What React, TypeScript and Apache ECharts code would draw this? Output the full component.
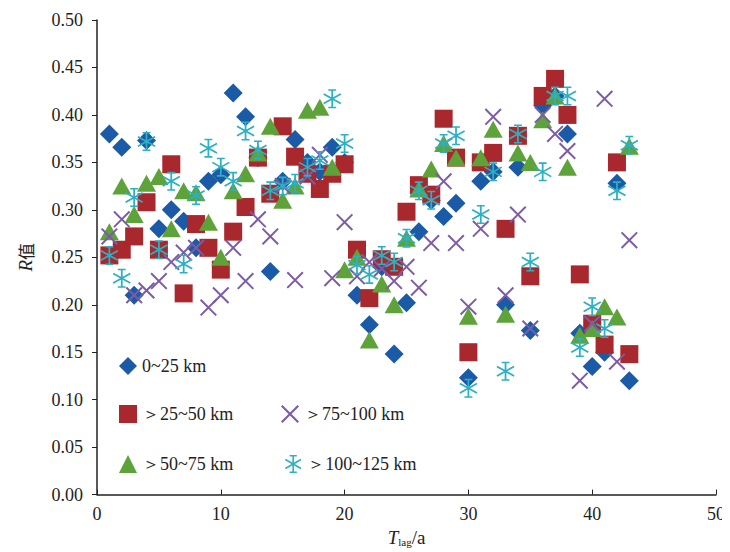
import React, { useEffect, useRef } from "react";
import * as echarts from "echarts";

const LAGS = [1,2,3,4,5,6,7,8,9,10,11,12,13,14,15,16,17,18,19,20,21,22,23,24,25,26,27,28,29,30,31,32,33,34,35,36,37,38,39,40,41,42,43];

const NAMES = ["0~25 km", "＞25~50 km", "＞50~75 km", "＞75~100 km", "＞100~125 km"];

const S1 = [0.38,0.366,0.21,0.373,0.28,0.30,0.288,0.26,0.33,0.337,0.423,0.398,0.355,0.235,0.33,0.374,0.35,0.34,0.366,0.35,0.21,0.179,0.24,0.148,0.202,0.277,0.31,0.293,0.307,0.123,0.33,0.34,0.20,0.345,0.173,0.41,0.42,0.38,0.17,0.135,0.15,0.328,0.12];
const S2 = [0.252,0.258,0.272,0.308,0.258,0.348,0.212,0.285,0.26,0.237,0.277,0.303,0.355,0.317,0.388,0.356,0.338,0.322,0.338,0.348,0.258,0.207,0.248,0.24,0.298,0.326,0.316,0.396,0.355,0.15,0.35,0.36,0.28,0.378,0.23,0.42,0.438,0.40,0.232,0.18,0.158,0.35,0.148];
const S3 = [0.277,0.325,0.295,0.328,0.335,0.28,0.32,0.318,0.287,0.25,0.32,0.338,0.36,0.388,0.31,0.325,0.405,0.408,0.345,0.237,0.25,0.163,0.222,0.20,0.27,0.322,0.343,0.37,0.355,0.188,0.355,0.385,0.19,0.36,0.35,0.395,0.42,0.345,0.168,0.175,0.198,0.187,0.367];
const S4 = [0.272,0.29,0.21,0.215,0.225,0.245,0.255,0.26,0.197,0.21,0.26,0.225,0.29,0.272,0.325,0.226,0.335,0.358,0.228,0.287,0.23,0.245,0.238,0.225,0.24,0.218,0.265,0.33,0.265,0.198,0.28,0.398,0.21,0.295,0.175,0.40,0.38,0.362,0.12,0.18,0.417,0.14,0.268];
const S5 = [0.252,0.228,0.313,0.372,0.258,0.33,0.243,0.315,0.365,0.345,0.33,0.383,0.363,0.32,0.325,0.328,0.345,0.352,0.417,0.37,0.242,0.232,0.252,0.245,0.27,0.32,0.31,0.37,0.378,0.112,0.295,0.34,0.13,0.38,0.245,0.34,0.42,0.42,0.155,0.198,0.175,0.32,0.368];

const X_TICKS = [0, 10, 20, 30, 40, 50];

const COLORS = ["#1a5aa6", "#a8282e", "#5da33a", "#7d5ba6", "#2bb0c4"];

const X_PATH =
  "path://M0.9,-0.9 L20.9,19.1 L19.1,20.9 L-0.9,0.9 Z M19.1,-0.9 L20.9,0.9 L0.9,20.9 L-0.9,19.1 Z";
const AST_PATH =
  "path://M9.1,0 L10.9,0 L10.9,20 L9.1,20 Z M6,0 L14,0 L14,1.6 L6,1.6 Z M6,18.4 L14,18.4 L14,20 L6,20 Z " +
  "M0.89,14.22 L18.21,4.22 L19.11,5.78 L1.79,15.78 Z M1.79,4.22 L19.11,14.22 L18.21,15.78 L0.89,5.78 Z";

const SYMBOLS: any[] = ["diamond", "rect", "triangle", X_PATH, AST_PATH];
const SIZES: any[] = [[19, 19], [18, 18], [19, 17], [17, 17], [18, 19]];
const VALUES = [S1, S2, S3, S4, S5];

const FONT = "Liberation Serif";

export default function App() {
  const ref = useRef<HTMLDivElement>(null);
  useEffect(() => {
    if (!ref.current) return;
    const chart = echarts.init(ref.current, null, { renderer: "svg" });
    const legendPos = [
      { left: 106, top: 344 },
      { left: 106, top: 392 },
      { left: 106, top: 442 },
      { left: 268, top: 392 },
      { left: 272, top: 442 },
    ];
    const legends = NAMES.map((n, i) => ({
      data: [n],
      left: legendPos[i].left,
      top: legendPos[i].top,
      itemWidth: 18,
      itemHeight: 18,
      textStyle: { fontFamily: FONT, fontSize: 18, color: "#222" },
      selectedMode: false,
    }));
    chart.setOption({
      animation: false,
      backgroundColor: "#fff",
      grid: { left: 80, right: 14, top: 12, bottom: 56 },
      legend: legends,
      xAxis: {
        type: "value",
        min: 0,
        max: 50,
        interval: 10,
        name: "{i|T}{s|lag}{n|/a}",
        nameLocation: "middle",
        nameGap: 27,
        nameTextStyle: {
          rich: {
            i: { fontFamily: FONT, fontStyle: "italic", fontSize: 19, color: "#222" },
            s: { fontFamily: FONT, fontSize: 11, color: "#222", verticalAlign: "bottom", padding: [9, 0, 0, 0] },
            n: { fontFamily: FONT, fontSize: 19, color: "#222" },
          },
        },
        axisLine: { lineStyle: { color: "#222", width: 1.5 } },
        axisTick: { inside: true, length: 5, lineStyle: { color: "#222" } },
        axisLabel: {
          fontFamily: FONT,
          fontSize: 18,
          color: "#222",
          margin: 10,
          formatter: (v: number) => (X_TICKS.includes(v) ? String(v) : ""),
        },
        splitLine: { show: false },
      },
      yAxis: {
        type: "value",
        min: 0,
        max: 0.5,
        interval: 0.05,
        name: "{i|R}{n|值}",
        nameLocation: "middle",
        nameRotate: 90,
        nameGap: 62,
        nameTextStyle: {
          rich: {
            i: { fontFamily: FONT, fontStyle: "italic", fontSize: 19, color: "#222" },
            n: { fontFamily: "Noto Sans CJK SC", fontSize: 17, color: "#222" },
          },
        },
        axisLine: { show: true, lineStyle: { color: "#222", width: 1.5 } },
        axisTick: { show: true, length: 5, lineStyle: { color: "#222" } },
        axisLabel: {
          fontFamily: FONT,
          fontSize: 18,
          color: "#222",
          margin: 14,
          formatter: (v: number) => v.toFixed(2),
        },
        splitLine: { show: false },
      },
      series: NAMES.map((n, i) => ({
        name: n,
        type: "scatter",
        symbol: SYMBOLS[i],
        symbolSize: SIZES[i],
        itemStyle: { color: COLORS[i], opacity: 1 },
        data: LAGS.map((t, k) => [t, VALUES[i][k]]),
        z: 2 + i,
      })),
    });
    return () => chart.dispose();
  }, []);
  return <div ref={ref} style={{ width: 722, height: 544 }} />;
}
